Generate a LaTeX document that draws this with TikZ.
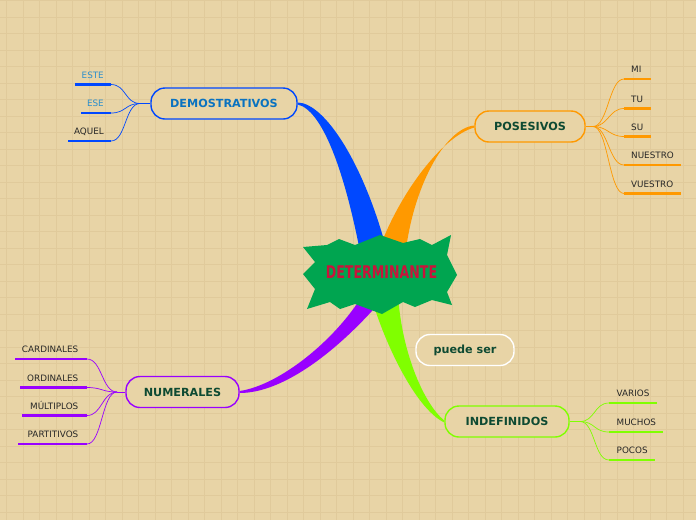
\documentclass[tikz,border=0pt]{standalone}
\usepackage{fontspec}
\setmainfont{DejaVu Sans}
\usetikzlibrary{calc}
\definecolor{paper}{HTML}{E8D4A6}
\definecolor{paperline}{HTML}{E0CA9B}
\definecolor{demoblue}{HTML}{0048FF}
\definecolor{posorange}{HTML}{FF9900}
\definecolor{numpurple}{HTML}{9900FF}
\definecolor{indlime}{HTML}{80FF00}
\definecolor{burstgreen}{HTML}{00A550}
\definecolor{burstred}{HTML}{C8143C}
\definecolor{titlegreen}{HTML}{0E4A32}
\definecolor{titleblue}{HTML}{0A72C0}
\definecolor{leafblue}{HTML}{2A8ECC}
\tikzset{
 gridline/.style={draw=paperline,line width=.9pt},
 topic/.style={draw=#1,line width=1.4pt,fill=paper,rounded corners=14pt,minimum height=31pt,inner sep=0,font=\fontsize{11.2}{13}\selectfont\bfseries,text=titlegreen},
 leaf/.style={font=\fontsize{8.8}{10}\selectfont,text=black!85,inner sep=0,text height=6.4pt,text depth=0pt},
 leafline/.style={draw=#1,line width=2.6pt},
 twig/.style={draw=#1,line width=.7pt}
}

\begin{document}
\begin{tikzpicture}[x=1pt,y=-1pt]
\path[use as bounding box,fill=paper] (0,0) rectangle (696,520);
\foreach \gx in {6.8,23.3,...,696} \draw[gridline] (\gx,0) -- (\gx,520);
\foreach \gy in {0.5,17,...,520} \draw[gridline] (0,\gy) -- (696,\gy);
% main topics
\node[topic=demoblue,text=titleblue,minimum width=146pt] (demo) at (224,103.5) {DEMOSTRATIVOS};
\node[topic=posorange,minimum width=110pt] (pos) at (530,126.5) {POSESIVOS};
\node[topic=numpurple,minimum width=113pt] (num) at (182.5,392) {NUMERALES};
\node[topic=indlime,minimum width=124pt] (indef) at (507,421.5) {INDEFINIDOS};
\node[topic=white,minimum width=98pt] (puede) at (465,350) {puede ser};
% thick branches
\fill[posorange] ($(pos.west)+(0,-1)$) .. controls (445,128) and (412,188) .. (405,258) -- (376,258) .. controls (395,200) and (440,137) .. ($(pos.west)+(0,1)$) -- cycle;
\fill[demoblue] ($(demo.east)+(0,1)$) .. controls (322,110) and (345,170) .. (362,262) -- (388,255) .. controls (365,165) and (325,103) .. ($(demo.east)+(0,-1)$) -- cycle;
\fill[numpurple] ($(num.east)+(0,-1)$) .. controls (280,385) and (335,340) .. (362,296) -- (380,302) .. controls (340,348) and (285,393) .. ($(num.east)+(0,1)$) -- cycle;
\fill[indlime] (372,300) .. controls (388,352) and (418,410) .. ($(indef.west)+(0,1)$) -- ($(indef.west)+(0,-1)$) .. controls (425,405) and (402,355) .. (398,295) -- cycle;
% centre burst
\fill[burstgreen] (303,247) -- (327,245) -- (339,239) -- (355,245) -- (380,235) -- (403,243) -- (420,239) -- (432,245) -- (451,235) -- (447,255) -- (457,275) -- (447,292) -- (452,305) -- (432,300) -- (415,307) -- (403,302) -- (382,314) -- (355,304) -- (340,309) -- (330,302) -- (307,309) -- (315,289) -- (303,274) -- (315,262) -- cycle;
\node[font=\fontsize{17.5}{18}\selectfont\bfseries,text=burstred,inner sep=0] (det) at (381.5,272) {\scalebox{0.72}[1]{DETERMINANTE}};
% demostrativos
\coordinate (demo-hub) at (140,103.5);
\draw[twig=demoblue] (demo-hub) -- (demo.west);
\coordinate (este-l) at (75,84.5); \coordinate (este-r) at (111,84.5);
\coordinate (ese-l) at (81,113); \coordinate (ese-r) at (111,113);
\coordinate (aquel-l) at (68,141); \coordinate (aquel-r) at (111,141);
\draw[leafline=demoblue] (este-l) -- (este-r);
\draw[leafline=demoblue] (ese-l) -- (ese-r);
\draw[leafline=demoblue] (aquel-l) -- (aquel-r);
\draw[twig=demoblue] (demo-hub) .. controls +(-15,0) and +(15,0) .. (este-r);
\draw[twig=demoblue] (demo-hub) .. controls +(-15,0) and +(15,0) .. (ese-r);
\draw[twig=demoblue] (demo-hub) .. controls +(-15,0) and +(15,0) .. (aquel-r);
\node[leaf,text=leafblue,anchor=east] (este) at (104,75) {ESTE};
\node[leaf,text=leafblue,anchor=east] (ese) at (104,103) {ESE};
\node[leaf,anchor=east] (aquel) at (104,131) {AQUEL};
% posesivos
\coordinate (pos-hub) at (593,126.5);
\draw[twig=posorange] (pos.east) -- (pos-hub);
\coordinate (mi-l) at (624,79); \coordinate (mi-r) at (651,79);
\coordinate (tu-l) at (624,108.5); \coordinate (tu-r) at (651,108.5);
\coordinate (su-l) at (624,136.5); \coordinate (su-r) at (651,136.5);
\coordinate (nuestro-l) at (624,165); \coordinate (nuestro-r) at (681,165);
\coordinate (vuestro-l) at (624,193.5); \coordinate (vuestro-r) at (681,193.5);
\foreach \w in {mi,tu,su,nuestro,vuestro}{
  \draw[leafline=posorange] (\w-l) -- (\w-r);
  \draw[twig=posorange] (pos-hub) .. controls +(15,0) and +(-15,0) .. (\w-l);
}
\node[leaf,anchor=west] (mi) at (631,69) {MI};
\node[leaf,anchor=west] (tu) at (631,99) {TU};
\node[leaf,anchor=west] (su) at (631,127) {SU};
\node[leaf,anchor=west] (nuestro) at (631,155) {NUESTRO};
\node[leaf,anchor=west] (vuestro) at (631,184) {VUESTRO};
% numerales
\coordinate (num-hub) at (117,392);
\draw[twig=numpurple] (num-hub) -- (num.west);
\coordinate (card-l) at (15,359); \coordinate (card-r) at (87,359);
\coordinate (ord-l) at (20,387.5); \coordinate (ord-r) at (87,387.5);
\coordinate (mult-l) at (22,415.5); \coordinate (mult-r) at (87,415.5);
\coordinate (part-l) at (18,444); \coordinate (part-r) at (87,444);
\foreach \w in {card,ord,mult,part}{
  \draw[leafline=numpurple] (\w-l) -- (\w-r);
  \draw[twig=numpurple] (num-hub) .. controls +(-15,0) and +(15,0) .. (\w-r);
}
\node[leaf,anchor=east] (card) at (78.5,349) {CARDINALES};
\node[leaf,anchor=east] (ord) at (78.5,378) {ORDINALES};
\node[leaf,anchor=east] (mult) at (78.5,406) {MÚLTIPLOS};
\node[leaf,anchor=east] (part) at (78.5,434) {PARTITIVOS};
% indefinidos
\coordinate (indef-hub) at (580,421.5);
\draw[twig=indlime] (indef.east) -- (indef-hub);
\coordinate (varios-l) at (609,403); \coordinate (varios-r) at (657,403);
\coordinate (muchos-l) at (609,432); \coordinate (muchos-r) at (663,432);
\coordinate (pocos-l) at (609,460); \coordinate (pocos-r) at (655,460);
\foreach \w in {varios,muchos,pocos}{
  \draw[leafline=indlime] (\w-l) -- (\w-r);
  \draw[twig=indlime] (indef-hub) .. controls +(15,0) and +(-15,0) .. (\w-l);
}
\node[leaf,anchor=west] (varios) at (616.5,393) {VARIOS};
\node[leaf,anchor=west] (muchos) at (616.5,422) {MUCHOS};
\node[leaf,anchor=west] (pocos) at (616.5,450) {POCOS};
\end{tikzpicture}
\end{document}
